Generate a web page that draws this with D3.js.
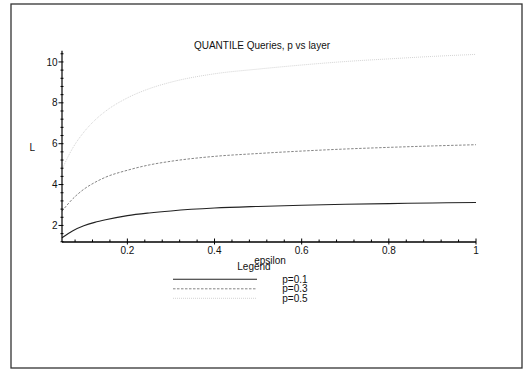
<!DOCTYPE html>
<html>
<head>
<meta charset="utf-8">
<script src="https://cdn.jsdelivr.net/npm/d3@7"></script>
<style>
  html, body { margin: 0; padding: 0; background: #fff; }
  svg { display: block; font-family: "Liberation Sans", Arial, Helvetica, sans-serif; }
</style>
</head>
<body>
<svg id="chart" width="524" height="379"></svg>
<script>
// epsilon sample points and L values for each p
const epsilon = [0.05, 0.075, 0.1, 0.125, 0.15, 0.2, 0.25, 0.3, 0.4, 0.5, 0.6, 0.7, 0.8, 0.9, 1.0];
const p01 = [1.40, 1.74, 1.98, 2.15, 2.28, 2.48, 2.61, 2.71, 2.85, 2.93, 2.99, 3.04, 3.07, 3.10, 3.12];
const p03 = [2.70, 3.31, 3.77, 4.10, 4.36, 4.70, 4.96, 5.14, 5.38, 5.52, 5.64, 5.74, 5.82, 5.89, 5.95];
const p05 = [4.75, 5.80, 6.56, 7.14, 7.59, 8.24, 8.69, 9.01, 9.42, 9.65, 9.85, 10.02, 10.15, 10.27, 10.37];

const seriesNames = ["p=0.1", "p=0.3", "p=0.5"];
const seriesValues = [p01, p03, p05];

const xMajorTicks = [0.2, 0.4, 0.6, 0.8, 1];
const yMajorTicks = [2, 4, 6, 8, 10];

const styles = [
  { stroke: "#222", width: 1.1, dash: null },
  { stroke: "#777", width: 0.9, dash: "2.5,1.5" },
  { stroke: "#c8c8c8", width: 0.8, dash: "1,1" }
];

const svg = d3.select("#chart");

// outer frame
svg.append("rect")
  .attr("x", 11).attr("y", 4).attr("width", 511).attr("height", 364)
  .attr("fill", "none").attr("stroke", "#333").attr("stroke-width", 1.3);

const x = d3.scaleLinear().domain([0.05, 1]).range([62, 476]);
const y = d3.scaleLinear().domain([1.19, 10.55]).range([242, 50.7]);

// title
svg.append("text")
  .attr("x", 262).attr("y", 49)
  .attr("text-anchor", "middle").attr("font-size", 10).attr("fill", "#111")
  .text("QUANTILE Queries, p vs layer");

// curves
const line = d3.line()
  .x((d, i) => x(epsilon[i]))
  .y(d => y(d))
  .curve(d3.curveMonotoneX);

seriesValues.forEach((vals, k) => {
  svg.append("path")
    .datum(vals)
    .attr("fill", "none")
    .attr("stroke", styles[k].stroke)
    .attr("stroke-width", styles[k].width)
    .attr("stroke-dasharray", styles[k].dash)
    .attr("d", line);
});

// y axis: major ticks with labels, minor ticks every 0.4
const yAxis = svg.append("g").attr("transform", "translate(62,0)");
yAxis.append("line")
  .attr("x1", 0).attr("x2", 0).attr("y1", y(10.55)).attr("y2", y(1.19))
  .attr("stroke", "#000").attr("stroke-width", 1.2);
const yMinor = d3.range(1.2, 10.55, 0.4).filter(v => !yMajorTicks.some(t => Math.abs(t - v) < 1e-6));
yAxis.selectAll("line.minor").data(yMinor).enter().append("line")
  .attr("class", "minor")
  .attr("x1", -1.5).attr("x2", 1.5)
  .attr("y1", d => y(d)).attr("y2", d => y(d))
  .attr("stroke", "#000").attr("stroke-width", 1);
yAxis.selectAll("line.major").data(yMajorTicks).enter().append("line")
  .attr("class", "major")
  .attr("x1", -3.5).attr("x2", 1.5)
  .attr("y1", d => y(d)).attr("y2", d => y(d))
  .attr("stroke", "#000").attr("stroke-width", 1);
yAxis.selectAll("text").data(yMajorTicks).enter().append("text")
  .attr("x", -4.5).attr("y", d => y(d) + 3.6)
  .attr("text-anchor", "end").attr("font-size", 10).attr("fill", "#111")
  .text(d => d);

// x axis: major ticks with labels, minor ticks every 0.04
const xAxis = svg.append("g").attr("transform", "translate(0,242)");
xAxis.append("line")
  .attr("x1", x(0.05)).attr("x2", x(1)).attr("y1", 0).attr("y2", 0)
  .attr("stroke", "#000").attr("stroke-width", 1.4);
const xMinor = d3.range(0.08, 1.0, 0.04).filter(v => !xMajorTicks.some(t => Math.abs(t - v) < 1e-6));
xAxis.selectAll("line.minor").data(xMinor).enter().append("line")
  .attr("class", "minor")
  .attr("x1", d => x(d)).attr("x2", d => x(d))
  .attr("y1", -2.5).attr("y2", 0)
  .attr("stroke", "#000").attr("stroke-width", 1);
xAxis.selectAll("line.major").data(xMajorTicks).enter().append("line")
  .attr("class", "major")
  .attr("x1", d => x(d)).attr("x2", d => x(d))
  .attr("y1", -3.5).attr("y2", 2.5)
  .attr("stroke", "#000").attr("stroke-width", 1);
xAxis.selectAll("text").data(xMajorTicks).enter().append("text")
  .attr("x", d => x(d)).attr("y", 11.5)
  .attr("text-anchor", "middle").attr("font-size", 10).attr("fill", "#111")
  .text(d => d);

// axis titles
svg.append("text")
  .attr("x", 29.5).attr("y", 150.5)
  .attr("font-size", 10).attr("fill", "#111")
  .text("L");
svg.append("text")
  .attr("x", 270).attr("y", 264)
  .attr("text-anchor", "middle").attr("font-size", 10).attr("fill", "#111")
  .text("epsilon");

// legend
svg.append("text")
  .attr("x", 254).attr("y", 270)
  .attr("text-anchor", "middle").attr("font-size", 10).attr("fill", "#111")
  .text("Legend");
const legendY = [279.3, 288.8, 298.3];
seriesNames.forEach((name, k) => {
  svg.append("line")
    .attr("x1", 173).attr("x2", 257)
    .attr("y1", legendY[k]).attr("y2", legendY[k])
    .attr("stroke", styles[k].stroke)
    .attr("stroke-width", styles[k].width)
    .attr("stroke-dasharray", styles[k].dash);
  svg.append("text")
    .attr("x", 282.3).attr("y", legendY[k] + 3.2)
    .attr("font-size", 10).attr("fill", "#111")
    .text(name);
});
</script>
</body>
</html>
